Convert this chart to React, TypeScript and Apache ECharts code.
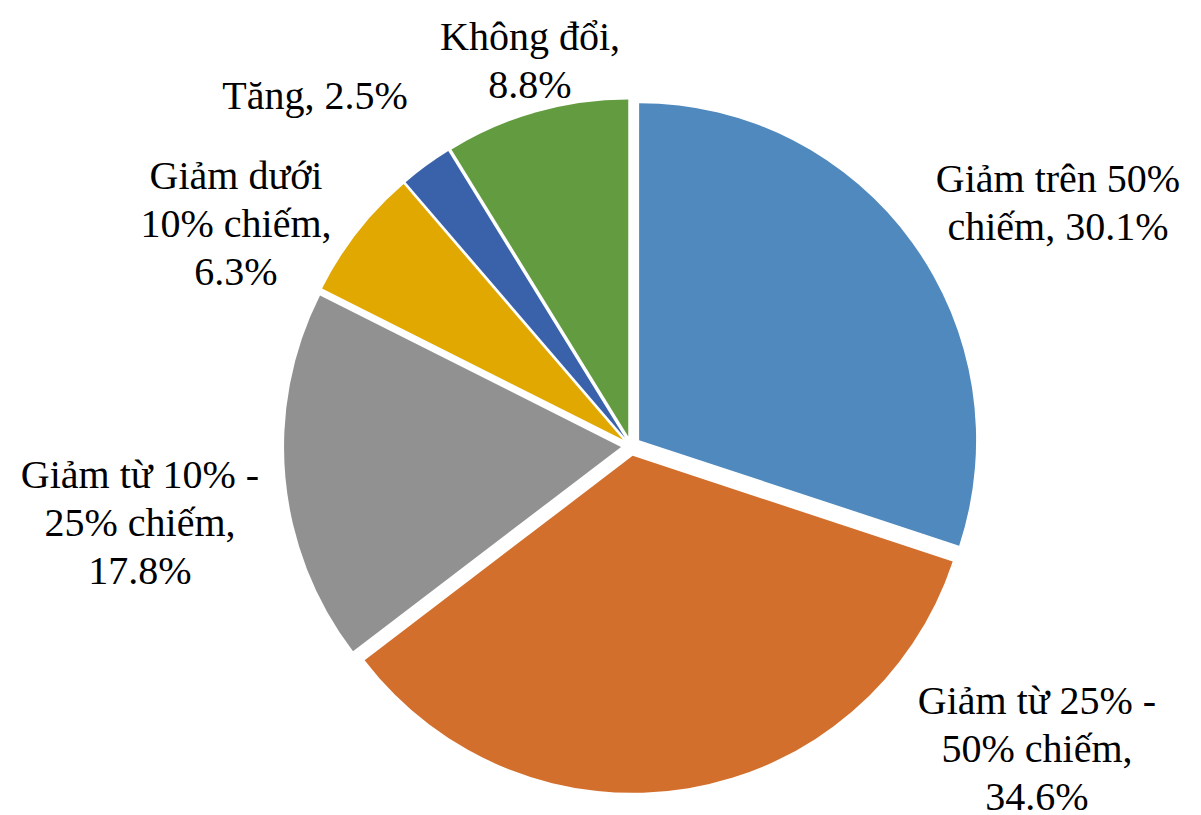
import React, { useEffect, useRef } from "react";
import * as echarts from "echarts";

const categories = [
  "Giảm trên 50%",
  "Giảm từ 25% - 50%",
  "Giảm từ 10% - 25%",
  "Giảm dưới 10%",
  "Tăng",
  "Không đổi",
];
const values = [30.1, 34.6, 17.8, 6.3, 2.5, 8.8];
const labelPrefixes = [
  "Giảm trên 50%\nchiếm, ",
  "Giảm từ 25% -\n50% chiếm,\n",
  "Giảm từ 10% -\n25% chiếm,\n",
  "Giảm dưới\n10% chiếm,\n",
  "Tăng, ",
  "Không đổi,\n",
];
const colors = ["#4F89BD", "#D36F2C", "#919191", "#E0A800", "#3A62AA", "#639B40"];
// label block centres (layout only)
const labelCenters: [number, number][] = [
  [1058, 202],
  [1037, 748],
  [140, 522],
  [236, 223],
  [315, 95],
  [530, 60],
];

export default function App() {
  const ref = useRef<HTMLDivElement>(null);
  useEffect(() => {
    document.body.style.margin = "0";
    const chart = echarts.init(ref.current!, undefined, { renderer: "svg" });
    chart.setOption({
      animation: false,
      backgroundColor: "#ffffff",
      graphic: categories.map((_, i) => ({
        type: "text",
        x: labelCenters[i][0],
        y: labelCenters[i][1],
        silent: true,
        style: {
          text: labelPrefixes[i] + values[i].toFixed(1) + "%",
          fill: "#000000",
          fontFamily: "Liberation Serif",
          fontSize: 40,
          lineHeight: 48,
          align: "center",
          verticalAlign: "middle",
        },
      })),
      series: [
        {
          type: "pie",
          center: [631, 446],
          radius: [0, 337],
          startAngle: 90,
          clockwise: true,
          selectedMode: "multiple",
          selectedOffset: 10,
          emphasis: { disabled: true },
          itemStyle: { borderWidth: 0 },
          labelLine: { show: false },
          label: { show: false },
          data: categories.map((name, i) => ({
            name,
            value: values[i],
            selected: true,
            itemStyle: { color: colors[i] },
            select: { itemStyle: { color: colors[i] } },
          })),
        },
      ],
    });
    return () => chart.dispose();
  }, []);
  return <div ref={ref} style={{ width: 1201, height: 815 }} />;
}
